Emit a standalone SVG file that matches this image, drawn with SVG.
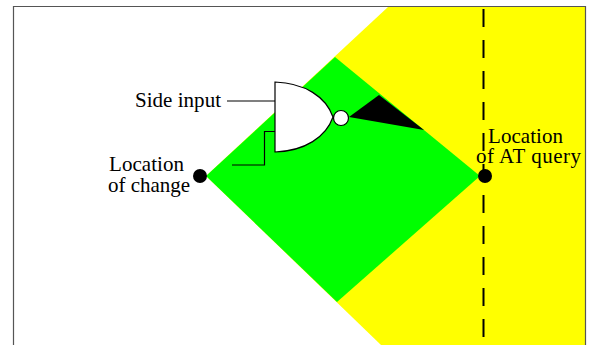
<svg xmlns="http://www.w3.org/2000/svg" width="589" height="345" viewBox="0 0 589 345">
<style>
text{font-family:"Liberation Serif","Times New Roman",serif;font-size:21px;fill:#000}
.w{fill:none;stroke:#000;stroke-width:1.2}
.g{fill:#fff;stroke:#000;stroke-width:1.2}
</style>
<rect width="589" height="345" fill="#fff"/>
<g id="regions">
<polygon points="388,7 585,7 585,345 381,345 206,176" fill="#ff0"/>
<polygon points="206,176 335,57 480,176 337,302" fill="#0f0"/>
<polygon points="349,117 379,95 424,130" fill="#000"/>
</g>
<g id="frame"><path d="M13.5,345V6.5H585.5V345" fill="none" stroke="#555" stroke-width="1.2"/></g>
<g id="connectors">
<path class="w" d="M227,101H275"/>
<path class="w" d="M232,165H264.500V131.500H275"/>
<path d="M483.500,7V345" fill="none" stroke="#000" stroke-width="2" stroke-dasharray="18 13" stroke-dashoffset="29"/>
</g>
<g id="gate">
<path class="g" d="M275,82C305,83 326,97 333,117C326,137 305,151 275,152Z"/>
<circle class="g" cx="341" cy="118" r="7.500"/>
</g>
<g id="change"><circle cx="200" cy="176" r="7" fill="#000"/>
<text x="109" y="171" textLength="75" lengthAdjust="spacing">Location</text>
<text x="108" y="192" textLength="82" lengthAdjust="spacing">of change</text></g>
<g id="query"><circle cx="485" cy="176" r="7" fill="#000"/>
<text x="488" y="143" textLength="75" lengthAdjust="spacing">Location</text>
<text x="476" y="163" textLength="105" lengthAdjust="spacing">of AT query</text></g>
<g id="side"><text x="135" y="107" textLength="86" lengthAdjust="spacing">Side input</text></g>
</svg>
